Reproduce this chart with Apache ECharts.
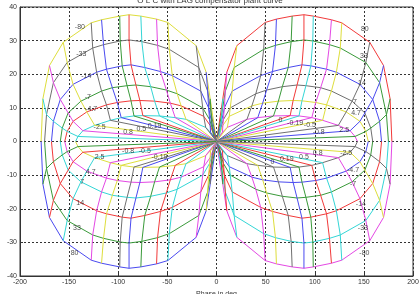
<!DOCTYPE html>
<html>
<head>
<meta charset="utf-8">
<script src="https://cdn.jsdelivr.net/npm/echarts@6/dist/echarts.min.js"></script>
<style>
html, body { margin: 0; padding: 0; background: #fff; }
#chart { width: 420px; height: 294px; }
</style>
</head>
<body>
<div id="chart"></div>
<script>
(function () {
    // upper right lobe: vertex of each arc where it meets radials c1..c13 (phase deg, dB)
    var arc80 = [[6.4, 12.7], [10.5, 20.6], [20.7, 28.5], [49.5, 35.4], [61, 36.4], [77, 37.3], [89, 37.7], [98.5, 37.3], [117, 36.2], [127.5, 35.3], [156, 29.5], [170, 22.6], [176.7, 12.7]];
    var arc33 = [[5.5, 8.5], [9, 15], [18, 22], [48, 27.4], [60, 28.6], [76, 29.7], [89, 30.2], [98, 29.9], [115, 28.8], [126, 27.8], [152, 23.5], [166, 17.5], [173, 8]];
    var arc14 = [[4.8, 5.5], [8, 10], [16, 15], [45, 19.6], [57, 20.8], [73, 22], [87, 22.8], [96, 22.5], [112, 21.5], [122, 20.6], [146, 17], [159, 12.5], [166, 6]];
    var arc7 = [[4, 3.6], [7, 6.5], [14, 10], [40, 14.2], [51, 15.3], [67, 16.3], [82, 16.8], [91, 16.6], [106, 16], [117, 15], [138, 12], [151, 8.5], [157, 4]];
    var arc4p7 = [[3.5, 2.6], [6.5, 4.8], [13, 7.5], [36, 10.6], [47, 11.4], [63, 12], [78, 12.2], [87, 12.1], [101, 11.6], [112, 10.9], [132, 8.8], [146, 6], [152, 3]];
    var arc2p5 = [[3, 1.5], [6, 2.7], [11, 4.2], [31, 6.6], [42, 7.1], [58, 7.6], [75, 7.7], [84, 7.6], [97, 7.1], [108, 6.3], [124, 4.8], [136, 3.2], [141, 1.5]];
    // phase where each arc comes back to 0 dB
    var arcEnds = [178.5, 175, 168, 159, 154.5, 143.5];
    var arcs = [arc80, arc33, arc14, arc7, arc4p7, arc2p5];

    // curve labels
    var labelText = ['-80', '-33', '-14', '-7', '-4.7', '-2.5', '0.8', '0.5', '0.19',
        '2.5', '4.7', '7', '14', '33', '80', '-0.8', '-0.5', '-0.19',
        '80', '33', '14', '7', '4.7', '2.5', '0', '-0.19', '-0.5', '-0.8',
        '0', '0.19', '0.5', '0.8', '-2.5', '-4.7', '-7', '-14', '-33', '-80'];
    var labelPhase = [-139, -137.6, -132.6, -131, -127.5, -119, -90, -76.6, -63,
        -119, -128, -136.6, -138.7, -142, -144.5, -90, -73, -58,
        151, 150, 148, 141, 142, 130, 65, 80, 95, 104,
        57, 71.5, 89, 103, 132, 139, 139, 147, 149, 150.5];
    var labelDb = [33.9, 26, 19.6, 13.1, 9.7, 4.2, 2.8, 3.6, 4.7,
        -4.5, -9.1, -12.1, -18.3, -25.6, -33.2, -2.9, -2.9, -4.5,
        33.4, 25.5, 17.4, 11.7, 8.5, 3.3, 6.5, 5.5, 5, 2.8,
        -6.1, -5.3, -4.5, -3.5, -3.5, -8.6, -12.6, -18.5, -25.6, -33.3];

    var C = {
        r: '#f23a3a', g: '#3a9a3a', b: '#4a4af0', k: '#707070',
        y: '#dede3c', m: '#e448e4', c: '#34d6d6'
    };
    // the four lobes are mirror images of the upper right one
    var lobes = [
        { sx: 1, sy: 1, arc: 'rgbkym', rad: 'cmykbgrcmykbg' },
        { sx: -1, sy: 1, arc: 'ykbgrc', rad: 'gbkymcrgbkymc' },
        { sx: -1, sy: -1, arc: 'bgrcmy', rad: 'kymcrgbkymcrg' },
        { sx: 1, sy: -1, arc: 'mcrgbk', rad: 'grcmykbgrcmyk' }
    ];

    var series = [];
    var line = function (data, color) {
        return {
            type: 'line',
            data: data,
            showSymbol: false,
            silent: true,
            lineStyle: { color: color, width: 1 },
            z: 2
        };
    };
    lobes.forEach(function (lobe) {
        var i, j, pts;
        for (i = 0; i < arcs.length; i++) {
            pts = [[0, 0]];
            for (j = 0; j < arcs[i].length; j++) {
                pts.push([lobe.sx * arcs[i][j][0], lobe.sy * arcs[i][j][1]]);
            }
            pts.push([lobe.sx * arcEnds[i], 0]);
            series.push(line(pts, C[lobe.arc[i]]));
        }
        for (j = 0; j < arc80.length; j++) {
            pts = [[0, 0]];
            for (i = arcs.length - 1; i >= 0; i--) {
                pts.push([lobe.sx * arcs[i][j][0], lobe.sy * arcs[i][j][1]]);
            }
            series.push(line(pts, C[lobe.rad[j]]));
        }
    });

    var labelData = [];
    for (var k = 0; k < labelText.length; k++) {
        labelData.push([labelPhase[k], labelDb[k], labelText[k]]);
    }
    series.push({
        type: 'scatter',
        data: labelData,
        symbolSize: 1,
        itemStyle: { color: 'rgba(0,0,0,0)' },
        silent: true,
        z: 5,
        label: {
            show: true,
            position: 'inside',
            color: '#222',
            fontSize: 7,
            fontFamily: 'Liberation Sans',
            formatter: function (p) { return p.data[2]; }
        }
    });

    var axisText = { color: '#333', fontSize: 7, fontFamily: 'Liberation Sans' };
    var chart = echarts.init(document.getElementById('chart'));
    chart.setOption({
        animation: false,
        title: {
            text: 'O L C with LAG compensator plant curve',
            left: 'center',
            top: -8,
            textStyle: { color: '#333', fontSize: 8, fontWeight: 'normal', fontFamily: 'Liberation Sans' }
        },
        grid: {
            left: 20, right: 7, top: 7, bottom: 18,
            outerBoundsMode: 'none', containLabel: false,
            show: true, borderColor: '#333', borderWidth: 1, backgroundColor: '#fff'
        },
        xAxis: {
            type: 'value', min: -200, max: 200, interval: 50,
            name: 'Phase in deg', nameLocation: 'middle', nameGap: 9,
            nameTextStyle: axisText,
            axisLine: { onZero: false, lineStyle: { color: '#333' } },
            axisTick: { inside: true, length: 3, lineStyle: { color: '#333' } },
            axisLabel: Object.assign({ margin: 3 }, axisText),
            splitLine: { show: true, lineStyle: { color: '#333', type: [2, 2], width: 1 } }
        },
        yAxis: {
            type: 'value', min: -40, max: 40, interval: 10,
            name: 'Magnitude in db', nameLocation: 'middle', nameGap: 15,
            nameTextStyle: axisText,
            axisLine: { onZero: false, lineStyle: { color: '#333' } },
            axisTick: { inside: true, length: 3, lineStyle: { color: '#333' } },
            axisLabel: Object.assign({ margin: 3 }, axisText),
            splitLine: { show: true, lineStyle: { color: '#333', type: [2, 2], width: 1 } }
        },
        series: series
    });

    window.addEventListener('resize', function () {
        chart.resize();
    });
})();
</script>
</body>
</html>
